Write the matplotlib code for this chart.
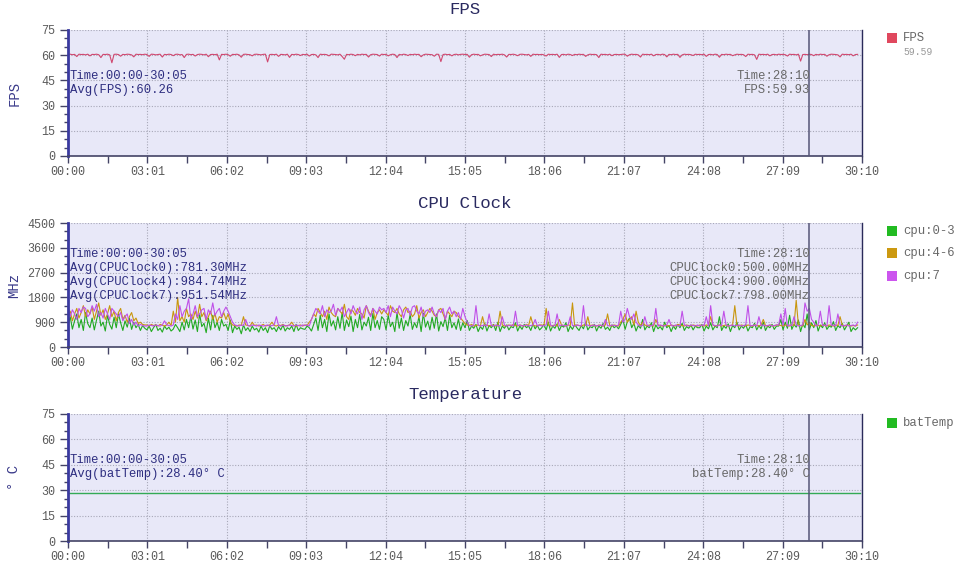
import matplotlib
matplotlib.use('Agg')
import matplotlib.pyplot as plt
from matplotlib.patches import Rectangle
from matplotlib.ticker import MultipleLocator, FixedLocator

# ---------------- data ----------------
time_labels = ["00:00", "03:01", "06:02", "09:03", "12:04", "15:05",
               "18:06", "21:07", "24:08", "27:09", "30:10"]
tick_seconds = [0, 181, 362, 543, 724, 905, 1086, 1267, 1448, 1629, 1810]
sample_step = 5  # seconds between samples
cursor_seconds = 1690  # 28:10

fps = [
    60.5, 60.6, 60.3, 60.5, 59.2, 60.6, 60.4, 60.5, 60.2, 60.6, 59.6, 60.5, 60.4, 60.6, 60.3, 58.6, 60.5, 60.4, 60.6, 60.2, 55.5, 60.5, 60.6, 60.4, 59.4, 60.5, 60.3, 60.6, 60.5, 60.2, 59.0, 60.6, 60.4, 60.5, 60.3, 60.6,
    60.4, 59.3, 60.6, 60.5, 60.2, 60.4, 60.6, 58.9, 60.5, 60.3, 60.6, 60.4, 59.7, 60.5, 60.6, 60.2, 60.4, 58.6, 60.5, 60.6, 60.3, 60.5, 59.5, 60.4, 60.6, 60.5, 60.2, 60.6, 59.1, 60.4, 60.5, 60.3, 60.6, 57.2, 60.5, 60.4,
    60.6, 60.3, 59.4, 60.5, 60.4, 60.6, 60.2, 58.8, 60.5, 60.6, 60.4, 60.3, 59.6, 60.5, 60.6, 60.4, 60.2, 60.5, 60.6, 56.0, 60.4, 60.5, 60.3, 60.6, 59.3, 60.5, 60.4, 60.2, 60.6, 58.7, 60.5, 60.3, 60.6, 60.4, 59.8, 60.5,
    60.3, 60.6, 59.5, 60.4, 60.5, 60.2, 58.6, 60.6, 60.4, 60.5, 60.3, 59.6, 60.6, 60.5, 60.4, 60.2, 60.6, 59.2, 57.6, 60.5, 60.3, 60.6, 60.4, 59.7, 60.5, 60.2, 60.6, 60.4, 60.5, 58.9, 60.3, 60.6, 60.5, 60.4, 59.5, 60.6,
    60.4, 60.5, 59.6, 60.3, 60.6, 60.4, 58.6, 60.5, 60.2, 60.6, 60.4, 59.8, 60.5, 60.3, 60.6, 60.4, 60.5, 59.1, 60.2, 60.6, 60.5, 60.4, 60.3, 59.4, 60.6, 60.5, 56.2, 60.4, 60.6, 60.3, 60.5, 59.6, 60.4, 60.6, 60.2, 60.5,
    60.6, 60.4, 60.5, 58.8, 60.3, 60.6, 60.4, 60.5, 59.6, 60.2, 60.6, 60.5, 60.4, 59.2, 60.6, 60.3, 60.5, 60.4, 60.6, 60.2, 58.9, 60.5, 60.4, 60.6, 60.3, 59.7, 60.5, 60.6, 60.4, 60.2, 60.5, 59.3, 60.6, 60.4, 60.5, 60.3,
    60.5, 60.2, 59.5, 60.6, 60.4, 60.5, 60.3, 60.6, 58.7, 60.4, 60.5, 60.2, 60.6, 60.4, 59.8, 60.5, 60.3, 60.6, 60.4, 60.5, 59.3, 60.2, 60.6, 60.4, 60.5, 60.3, 58.6, 60.6, 60.4, 60.5, 60.2, 60.6, 59.7, 60.4, 60.5, 60.3,
    60.4, 60.6, 60.5, 59.4, 60.3, 60.6, 60.4, 60.5, 60.2, 58.9, 60.6, 60.4, 60.5, 60.3, 60.6, 59.6, 60.4, 60.5, 60.2, 60.6, 60.4, 59.0, 60.5, 60.3, 60.6, 60.4, 60.5, 58.7, 60.2, 60.6, 60.4, 60.5, 60.3, 59.8, 60.6, 60.4,
    60.5, 60.3, 60.6, 59.3, 60.4, 60.5, 60.2, 60.6, 60.4, 58.8, 60.5, 60.3, 60.6, 60.4, 60.5, 59.7, 60.2, 60.6, 60.4, 60.5, 60.3, 59.2, 60.6, 60.4, 60.5, 60.2, 57.5, 60.6, 60.4, 60.5, 60.3, 60.6, 59.6, 60.4, 60.5, 60.2,
    60.6, 60.4, 60.5, 60.3, 59.5, 60.6, 60.4, 60.5, 60.2, 60.6, 56.5, 60.4, 60.5, 60.3, 60.6, 60.4, 59.7, 60.5, 60.2, 60.6, 60.4, 60.5, 59.4, 60.3, 60.6, 60.5, 60.4, 60.2, 59.0, 60.6, 60.4, 60.5, 60.3, 60.6, 59.6, 60.4,
    60.5,
]

cpu0_3 = [
    800, 1100, 650, 950, 1200, 700, 1000, 600, 1250, 850, 700, 1050, 620, 980, 1300, 760, 900, 580, 1150, 820, 650, 1080, 700, 1200, 880, 600, 950, 720, 1050, 640, 900, 700, 820, 600, 780, 680,
    620, 760, 560, 700, 820, 600, 680, 540, 760, 640, 720, 580, 650, 820, 700, 560, 900, 620, 1000, 700, 1100, 650, 980, 560, 1200, 740, 860, 520, 1050, 620, 1150, 700, 900, 600, 1000, 760,
    820, 600, 980, 520, 760, 640, 720, 480, 800, 600, 700, 560, 760, 620, 680, 540, 760, 600, 700, 520, 780, 640, 700, 560, 740, 620, 800, 580, 700, 640, 760, 560, 820, 600, 700, 660,
    640, 760, 700, 580, 820, 1050, 600, 1150, 700, 1000, 560, 1200, 760, 950, 620, 1100, 680, 1250, 600, 980, 740, 1120, 560, 1000, 700, 1180, 620, 900, 760, 1080, 600, 1220, 700, 960, 640, 1100,
    1000, 620, 1150, 740, 900, 560, 1250, 680, 1050, 600, 960, 760, 1180, 640, 880, 700, 1100, 560, 1220, 720, 940, 620, 1080, 680, 1200, 580, 920, 740, 1060, 600, 1150, 700, 880, 640, 1020, 600,
    880, 700, 960, 600, 760, 680, 820, 560, 740, 640, 860, 580, 780, 700, 820, 600, 900, 560, 760, 680, 800, 620, 740, 700, 880, 580, 760, 640, 820, 700, 760, 600, 840, 660, 780, 620,
    700, 820, 620, 900, 580, 760, 680, 840, 600, 780, 720, 880, 560, 760, 640, 820, 700, 600, 780, 660, 900, 620, 740, 700, 820, 580, 760, 680, 860, 640, 720, 600, 800, 700, 760, 660,
    820, 1000, 640, 920, 1050, 700, 860, 580, 780, 680, 1000, 620, 760, 700, 880, 560, 800, 660, 740, 620, 900, 700, 780, 560, 760, 640, 820, 700, 860, 600, 740, 680, 800, 620, 760, 700,
    700, 820, 580, 760, 660, 880, 620, 760, 700, 1100, 600, 760, 680, 840, 560, 780, 700, 900, 620, 760, 680, 820, 580, 740, 700, 860, 620, 780, 660, 900, 600, 760, 700, 820, 640, 760,
    760, 1000, 620, 900, 680, 1150, 640, 820, 720, 980, 560, 840, 700, 1200, 620, 880, 700, 960, 580, 800, 700, 880, 640, 760, 720, 920, 600, 780, 700, 860, 620, 760, 900, 560, 700, 620,
    700,
]

cpu4_6 = [
    1100, 1300, 950, 1200, 1400, 1050, 1250, 1500, 1100, 1350, 1200, 1450, 1000, 1300, 1600, 1150, 1350, 1000, 1200, 1500, 1100, 1300, 950, 1250, 1400, 1000, 1150, 900, 1100, 1250, 950, 1050, 850, 900, 820, 800,
    800, 760, 820, 780, 800, 760, 820, 790, 760, 800, 900, 780, 1300, 900, 1800, 950, 1100, 900, 1400, 1100, 1200, 1000, 1300, 1050, 1550, 1100, 1250, 950, 1100, 1300, 1000, 1200, 900, 1100, 1050, 1250,
    1000, 1200, 900, 800, 780, 760, 800, 780, 1100, 800, 780, 760, 900, 780, 800, 760, 780, 820, 760, 780, 800, 900, 780, 760, 800, 780, 820, 760, 780, 800, 900, 780, 760, 780, 800, 760,
    800, 780, 900, 1000, 1200, 1100, 1400, 1250, 1100, 1300, 1000, 1450, 1250, 1150, 1100, 1400, 1300, 1200, 1550, 1100, 1000, 1350, 1300, 1150, 1400, 1250, 1200, 1050, 1500, 1300, 1150, 1400, 1000, 1250, 1350, 1200,
    1350, 1250, 1150, 1500, 1300, 1250, 1400, 1200, 1100, 1350, 1450, 1250, 1300, 1100, 1200, 1500, 1050, 1250, 1350, 1100, 1250, 1400, 1300, 1150, 1100, 1350, 1400, 1200, 1000, 1300, 1200, 1100, 1300, 1250, 1100, 1050,
    950, 850, 800, 780, 820, 760, 780, 800, 760, 1100, 780, 800, 760, 780, 800, 760, 780, 1300, 800, 760, 780, 800, 760, 820, 780, 760, 800, 780, 760, 820, 780, 1100, 800, 760, 780, 800,
    800, 780, 1400, 800, 760, 780, 800, 760, 1000, 800, 780, 760, 800, 780, 1600, 760, 800, 780, 760, 800, 780, 1100, 760, 800, 780, 760, 800, 780, 760, 800, 1200, 780, 760, 800, 780, 760,
    900, 1000, 1200, 900, 1000, 1100, 800, 1300, 900, 780, 900, 800, 760, 800, 780, 760, 1000, 800, 780, 760, 800, 780, 760, 800, 780, 760, 820, 800, 780, 760, 800, 780, 760, 800, 780, 760,
    800, 780, 760, 800, 780, 1100, 800, 760, 780, 800, 760, 780, 800, 760, 780, 800, 1500, 780, 760, 800, 780, 760, 800, 780, 760, 800, 780, 760, 800, 1000, 780, 760, 800, 780, 760, 800,
    800, 780, 760, 800, 780, 760, 800, 780, 1700, 800, 780, 760, 1000, 800, 900, 780, 760, 800, 780, 760, 800, 780, 760, 800, 780, 760, 800, 780, 1100, 800, 760, 780, 800, 760, 780, 760,
    800,
]

cpu7 = [
    1500, 1100, 1350, 1200, 1000, 1400, 1250, 1450, 1400, 1100, 1200, 1500, 1300, 1550, 1100, 1250, 1050, 1400, 1200, 1000, 1400, 1300, 1200, 1100, 1250, 950, 1100, 1200, 850, 1000, 800, 900, 760, 820, 780, 760,
    760, 800, 780, 760, 800, 780, 760, 800, 950, 800, 780, 760, 800, 1200, 1000, 1500, 1100, 1300, 1400, 1750, 1000, 1200, 1500, 1100, 1200, 1350, 1400, 1000, 1350, 1200, 1600, 1150, 1300, 1400, 1100, 1300,
    1450, 1300, 1100, 900, 800, 780, 760, 800, 780, 1000, 780, 760, 800, 780, 760, 800, 780, 760, 780, 800, 760, 780, 800, 1100, 780, 760, 800, 780, 760, 800, 780, 760, 800, 780, 760, 800,
    780, 800, 760, 1000, 1200, 1400, 1300, 1200, 1500, 1100, 1350, 1250, 1300, 1550, 1150, 1400, 1300, 1450, 1100, 1250, 1400, 1200, 1500, 1300, 1200, 1450, 1000, 1350, 1500, 1250, 1100, 1400, 1300, 1200, 1450, 1350,
    1400, 1250, 1500, 1100, 1450, 1300, 1200, 1500, 1350, 1050, 1350, 1400, 1150, 1450, 1500, 1300, 1200, 1450, 1100, 1300, 1350, 1250, 1450, 1200, 1100, 1350, 1250, 1400, 1000, 1300, 1450, 1200, 1300, 1100, 1250, 1000,
    1400, 1100, 900, 780, 760, 800, 1500, 800, 760, 780, 800, 760, 1200, 780, 760, 800, 780, 760, 1100, 800, 760, 780, 800, 760, 1300, 780, 800, 760, 780, 800, 760, 780, 800, 1000, 760, 800,
    760, 780, 800, 1300, 800, 760, 780, 1200, 760, 800, 780, 760, 800, 1100, 780, 760, 800, 780, 760, 1500, 780, 800, 760, 780, 800, 760, 780, 800, 760, 1000, 780, 760, 800, 780, 760, 800,
    1300, 900, 1000, 1400, 1100, 1000, 1200, 900, 800, 760, 780, 1100, 800, 760, 780, 800, 1400, 760, 800, 780, 760, 800, 1000, 780, 760, 800, 780, 760, 1300, 800, 780, 760, 800, 780, 760, 800,
    760, 800, 780, 1100, 760, 1500, 800, 780, 760, 800, 780, 1300, 800, 760, 780, 800, 760, 780, 800, 760, 780, 800, 1500, 760, 780, 800, 760, 1100, 780, 800, 760, 780, 800, 760, 780, 800,
    800, 1200, 780, 1400, 760, 800, 780, 1100, 800, 760, 780, 800, 1600, 1300, 1400, 1000, 900, 760, 800, 1300, 780, 800, 760, 1500, 780, 800, 760, 1200, 800, 760, 780, 800, 760, 780, 800, 760,
    900,
]

temp_seconds = [0, 1805]
bat_temp = [28.4, 28.4]

# ---------------- style ----------------
W, H = 960, 567
FONT = ['Liberation Mono', 'DejaVu Sans Mono', 'DejaVu Sans']
plt.rcParams['font.family'] = FONT

BG = '#e8e8f8'
NAVY = '#2e2e80'
TICKC = '#5a5a5a'
GRAYTXT = '#686868'

fig = plt.figure(figsize=(W / 100, H / 100), dpi=100)


def fx(x):
    return x / W


def fy(y):
    return 1 - y / H


def seconds_for(series):
    return [i * sample_step for i in range(len(series))]


def make_axes(top, bottom, ymax, ystep, ylabel, title):
    ax = fig.add_axes([fx(68), fy(bottom), fx(862) - fx(68), fy(top) - fy(bottom)])
    ax.set_facecolor(BG)
    ax.set_xlim(0, 1810)
    ax.set_ylim(0, ymax)
    ax.xaxis.set_major_locator(FixedLocator(tick_seconds))
    ax.set_xticklabels(time_labels)
    ax.xaxis.set_minor_locator(FixedLocator([s + 90.5 for s in tick_seconds[:-1]]))
    ax.yaxis.set_major_locator(MultipleLocator(ystep))
    ax.yaxis.set_minor_locator(MultipleLocator(ystep / 3))
    ax.grid(True, which='major', linestyle=(0, (1, 1.5)), color='#a8a8b8', linewidth=0.8)
    ax.tick_params(axis='x', which='both', direction='out', length=5, width=1,
                   color='#444466', labelsize=8.5, labelcolor=TICKC, pad=2)
    ax.tick_params(axis='y', which='major', direction='out', length=6, width=1,
                   color='#444466', labelsize=8.5, labelcolor=TICKC, pad=3)
    ax.tick_params(axis='y', which='minor', direction='out', length=3, width=1, color='#444466')
    ax.spines['top'].set_visible(False)
    ax.spines['left'].set_color('#3a3aa0')
    ax.spines['left'].set_linewidth(2)
    ax.spines['bottom'].set_color('#444466')
    ax.spines['bottom'].set_linewidth(1.2)
    ax.spines['right'].set_color('#2a2a5a')
    ax.spines['right'].set_linewidth(1)
    ax.set_ylabel(ylabel, color='#3a3a8a', fontsize=10)
    ax.yaxis.set_label_coords(-0.059, 0.5)
    fig.text(fx(465), fy(top - 20), title, ha='center', va='center',
             fontsize=12.5, color='#2a2a60')
    ax.axvline(cursor_seconds, color='#555577', linewidth=1.1, zorder=5)
    return ax


def left_note(top, lines):
    fig.text(fx(70), fy(top), "\n".join(lines), ha='left', va='top',
             fontsize=8.8, color=NAVY, linespacing=1.22, zorder=10)


def right_note(top, lines):
    fig.text(fx(810), fy(top), "\n".join(lines), ha='right', va='top',
             fontsize=8.8, color=GRAYTXT, linespacing=1.22, zorder=10)


def legend_item(y, color, label):
    fig.patches.append(Rectangle((fx(887), fy(y + 5)), 10 / W, 10 / H,
                                 transform=fig.transFigure, facecolor=color,
                                 edgecolor='none'))
    fig.text(fx(903), fy(y), label, ha='left', va='center', fontsize=8.8, color=GRAYTXT)


# ---- FPS ----
ax1 = make_axes(30, 156, 75, 15, 'FPS', 'FPS')
ax1.plot(seconds_for(fps), fps, color='#d04870', linewidth=0.8)
left_note(70, ["Time:00:00-30:05", "Avg(FPS):60.26"])
right_note(70, ["Time:28:10", "FPS:59.93"])
legend_item(38, '#e0485e', 'FPS')
fig.text(fx(903), fy(52), '59.59', ha='left', va='center', fontsize=7, color='#999999')

# ---- CPU Clock ----
ax2 = make_axes(223, 347, 4500, 900, 'MHz', 'CPU Clock')
ax2.plot(seconds_for(cpu0_3), cpu0_3, color='#22aa22', linewidth=0.8)
ax2.plot(seconds_for(cpu4_6), cpu4_6, color='#c8960e', linewidth=0.8)
ax2.plot(seconds_for(cpu7), cpu7, color='#c050e8', linewidth=0.8)
left_note(248, ["Time:00:00-30:05", "Avg(CPUClock0):781.30MHz",
                "Avg(CPUClock4):984.74MHz", "Avg(CPUClock7):951.54MHz"])
right_note(248, ["Time:28:10", "CPUClock0:500.00MHz",
                 "CPUClock4:900.00MHz", "CPUClock7:798.00MHz"])
legend_item(231, '#22bb22', 'cpu:0-3')
legend_item(253, '#cc9910', 'cpu:4-6')
legend_item(276, '#cc55ee', 'cpu:7')

# ---- Temperature ----
ax3 = make_axes(414, 541, 75, 15, '° C', 'Temperature')
ax3.plot(temp_seconds, bat_temp, color='#33aa55', linewidth=1)
left_note(454, ["Time:00:00-30:05", "Avg(batTemp):28.40° C"])
right_note(454, ["Time:28:10", "batTemp:28.40° C"])
legend_item(423, '#22bb22', 'batTemp')

fig.savefig('out.png', dpi=100)
